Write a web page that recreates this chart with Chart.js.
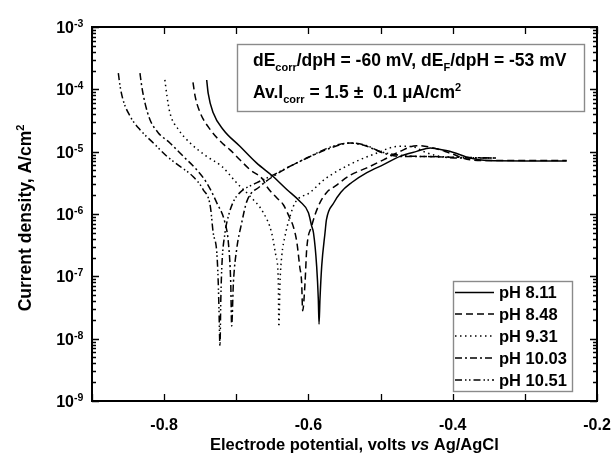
<!DOCTYPE html>
<html>
<head>
<meta charset="utf-8">
<script src="https://cdn.jsdelivr.net/npm/chart.js@4"></script>
<style>
  html, body { margin: 0; padding: 0; background: #fff; }
  #wrap { width: 615px; height: 455px; position: relative; }
</style>
</head>
<body>
<div id="wrap"><canvas id="tafelChart"></canvas></div>
<script>
// potential (V vs Ag/AgCl) and current density (A/cm2)
const pH811_E = [-0.741, -0.739, -0.732, -0.718, -0.695, -0.672, -0.649, -0.630, -0.612, -0.600, -0.5955, -0.593, -0.5886, -0.5863, -0.5853, -0.584, -0.5816, -0.577, -0.575, -0.565, -0.555, -0.540, -0.519, -0.496, -0.473, -0.450, -0.431, -0.422, -0.400, -0.376, -0.353, -0.300, -0.242];
const pH811_I = [1.41e-4, 8.7e-5, 4.2e-5, 2.25e-5, 1.22e-5, 6.6e-6, 4.0e-6, 2.47e-6, 1.6e-6, 1.05e-6, 6.4e-7, 5.0e-7, 1.46e-7, 4.3e-8, 1.7e-8, 4.3e-8, 1.46e-7, 5.0e-7, 8.1e-7, 1.5e-6, 2.24e-6, 3.2e-6, 4.6e-6, 6.2e-6, 8.4e-6, 1.01e-5, 1.15e-5, 1.11e-5, 9.8e-6, 7.9e-6, 7.2e-6, 7.1e-6, 7.1e-6];

const pH848_E = [-0.760, -0.757, -0.750, -0.736, -0.718, -0.709, -0.695, -0.681, -0.663, -0.658, -0.644, -0.635, -0.626, -0.621, -0.616, -0.612, -0.6094, -0.608, -0.6047, -0.6024, -0.5955, -0.5863, -0.575, -0.563, -0.542, -0.519, -0.496, -0.473, -0.450, -0.427, -0.404, -0.376, -0.350, -0.242];
const pH848_I = [1.29e-4, 7.7e-5, 4.2e-5, 2.25e-5, 1.32e-5, 1.08e-5, 7.4e-6, 5.15e-6, 3.56e-6, 2.79e-6, 1.82e-6, 1.42e-6, 8.7e-7, 6.3e-7, 3.5e-7, 1.41e-7, 7.9e-8, 2.8e-8, 7.9e-8, 2.7e-7, 6.4e-7, 1.33e-6, 2.2e-6, 2.8e-6, 4.2e-6, 5.5e-6, 7.4e-6, 1.01e-5, 1.25e-5, 1.15e-5, 9.5e-6, 7.4e-6, 7.2e-6, 7.2e-6];

const pH931_E = [-0.799, -0.796, -0.792, -0.780, -0.764, -0.741, -0.720, -0.6995, -0.681, -0.6625, -0.651, -0.645, -0.6417, -0.641, -0.6394, -0.637, -0.6325, -0.6255, -0.6186, -0.598, -0.579, -0.561, -0.529, -0.505, -0.487, -0.473, -0.455, -0.440, -0.420, -0.390, -0.340];
const pH931_I = [1.42e-4, 7.7e-5, 4.2e-5, 2.25e-5, 1.38e-5, 8.4e-6, 5.8e-6, 3.16e-6, 1.93e-6, 1.05e-6, 5.0e-7, 2.1e-7, 7.9e-8, 1.55e-8, 7.9e-8, 2.1e-7, 4.4e-7, 9.2e-7, 1.51e-6, 2.2e-6, 3.5e-6, 4.8e-6, 7.4e-6, 9.5e-6, 1.15e-5, 1.22e-5, 1.2e-5, 1.0e-5, 8.5e-6, 8.1e-6, 7.9e-6];

const pH1003_E = [-0.8335, -0.831, -0.8265, -0.8196, -0.808, -0.792, -0.7734, -0.755, -0.741, -0.727, -0.7156, -0.711, -0.7077, -0.7064, -0.704, -0.6995, -0.6925, -0.6855, -0.667, -0.649, -0.6255, -0.6024, -0.575, -0.556, -0.542, -0.519, -0.496, -0.473, -0.427, -0.394, -0.340];
const pH1003_I = [1.82e-4, 1.11e-4, 6.0e-5, 3.25e-5, 2.0e-5, 1.38e-5, 8.4e-6, 5.15e-6, 3.16e-6, 1.51e-6, 7.2e-7, 3.5e-7, 7.9e-8, 1.6e-8, 7.9e-8, 2.7e-7, 7.2e-7, 1.58e-6, 2.79e-6, 4.0e-6, 5.8e-6, 7.9e-6, 1.08e-5, 1.29e-5, 1.38e-5, 1.22e-5, 9.5e-6, 8.4e-6, 8.4e-6, 7.9e-6, 7.9e-6];

const pH1051_E = [-0.8635, -0.861, -0.857, -0.847, -0.8335, -0.815, -0.796, -0.778, -0.760, -0.746, -0.736, -0.732, -0.727, -0.725, -0.724, -0.7226, -0.7215, -0.720, -0.7156, -0.711, -0.704, -0.695, -0.672, -0.653, -0.630, -0.602, -0.575, -0.556, -0.542, -0.520, -0.500, -0.470, -0.430, -0.390, -0.340];
const pH1051_I = [1.82e-4, 1.11e-4, 6.8e-5, 3.67e-5, 2.25e-5, 1.38e-5, 8.4e-6, 5.8e-6, 4.0e-6, 2.47e-6, 1.33e-6, 5.0e-7, 2.4e-7, 7.9e-8, 3.0e-8, 7.7e-9, 4.0e-8, 1.46e-7, 5.0e-7, 9.2e-7, 1.58e-6, 2.2e-6, 3.16e-6, 4.0e-6, 5.5e-6, 7.9e-6, 1.12e-5, 1.32e-5, 1.38e-5, 1.26e-5, 1.0e-5, 8.7e-6, 8.3e-6, 8.1e-6, 7.9e-6];

const seriesLabels = ['pH 8.11', 'pH 8.48', 'pH 9.31', 'pH 10.03', 'pH 10.51'];
const xTicks = [-0.8, -0.6, -0.4, -0.2];
const xMajor = [-0.9, -0.8, -0.7, -0.6, -0.5, -0.4, -0.3, -0.2];
const yExponents = [-9, -8, -7, -6, -5, -4, -3];

const dashes = [[], [7, 4], [1.5, 3.5], [7, 3, 2, 3], [7, 3, 1.5, 2.5, 1.5, 3]];

function pts(E, I) {
  return E.map((e, i) => ({ x: e, y: I[i] }));
}

const series = [
  pts(pH811_E, pH811_I),
  pts(pH848_E, pH848_I),
  pts(pH931_E, pH931_I),
  pts(pH1003_E, pH1003_I),
  pts(pH1051_E, pH1051_I),
];

const FONT = '"Liberation Sans", Arial, sans-serif';

// draws a list of [text, font, dy] pieces one after another
function richText(ctx, parts, x, y) {
  let cx = x;
  parts.forEach(([t, f, dy]) => {
    ctx.font = f;
    ctx.fillText(t, cx, y + (dy || 0));
    cx += ctx.measureText(t).width;
  });
  return cx;
}

function richWidth(ctx, parts) {
  let w = 0;
  parts.forEach(([t, f]) => {
    ctx.font = f;
    w += ctx.measureText(t).width;
  });
  return w;
}

const decorations = {
  id: 'decorations',
  afterDraw(chart) {
    const ctx = chart.ctx;
    const xs = chart.scales.x;
    const ys = chart.scales.y;
    const a = chart.chartArea;
    ctx.save();
    ctx.fillStyle = '#000';
    ctx.strokeStyle = '#000';

    // frame
    ctx.lineWidth = 2;
    ctx.setLineDash([]);
    ctx.strokeRect(a.left, a.top, a.right - a.left, a.bottom - a.top);

    // x ticks (bottom and top, inward)
    ctx.lineWidth = 1.3;
    ctx.beginPath();
    xMajor.forEach((v) => {
      const px = Math.round(xs.getPixelForValue(v)) + 0.5;
      ctx.moveTo(px, a.bottom); ctx.lineTo(px, a.bottom - 7);
      ctx.moveTo(px, a.top); ctx.lineTo(px, a.top + 7);
    });
    // y ticks, major + minor, left and right
    yExponents.forEach((e) => {
      for (let m = 1; m <= 9; m++) {
        if (m > 1 && e === -3) break;
        const v = m * Math.pow(10, e);
        const py = Math.round(ys.getPixelForValue(v)) + 0.5;
        const len = m === 1 ? 7 : 4;
        ctx.moveTo(a.left, py); ctx.lineTo(a.left + len, py);
        ctx.moveTo(a.right, py); ctx.lineTo(a.right - len, py);
      }
    });
    ctx.stroke();

    // x tick labels
    ctx.font = 'bold 16px ' + FONT;
    ctx.textAlign = 'center';
    ctx.textBaseline = 'alphabetic';
    xTicks.forEach((v) => {
      ctx.fillText(v.toFixed(1), xs.getPixelForValue(v), 430);
    });

    // y tick labels 10^n
    ctx.textAlign = 'left';
    yExponents.forEach((e) => {
      const py = ys.getPixelForValue(Math.pow(10, e));
      ctx.font = 'bold 16px ' + FONT;
      const w10 = ctx.measureText('10').width;
      ctx.fillText('10', 74 - w10, py + 6);
      ctx.font = 'bold 10.5px ' + FONT;
      ctx.fillText(String(e), 74, py);
    });

    // x axis title
    const xt = [
      ['Electrode potential, volts ', 'bold 16.5px ' + FONT],
      ['vs', 'italic bold 16.5px ' + FONT],
      [' Ag/AgCl', 'bold 16.5px ' + FONT],
    ];
    richText(ctx, xt, 210, 450);

    // y axis title
    const yt = [
      ['Current density, A/cm', 'bold 17.5px ' + FONT],
      ['2', 'bold 11px ' + FONT, -7],
    ];
    const yw = richWidth(ctx, yt);
    ctx.save();
    ctx.translate(31, (a.top + a.bottom) / 2 + 4);
    ctx.rotate(-Math.PI / 2);
    richText(ctx, yt, -yw / 2, 0);
    ctx.restore();

    // annotation box
    ctx.fillStyle = '#fff';
    ctx.fillRect(237, 44, 347, 67);
    ctx.strokeStyle = '#8a8a8a';
    ctx.lineWidth = 1.4;
    ctx.strokeRect(237.5, 44.5, 347, 67);
    ctx.fillStyle = '#000';
    const big = 'bold 17.5px ' + FONT;
    const sub = 'bold 11px ' + FONT;
    richText(ctx, [
      ['dE', big], ['corr', sub, 5], ['/dpH = -60 mV, dE', big], ['F', sub, 5], ['/dpH = -53 mV', big],
    ], 253, 66);
    richText(ctx, [
      ['Av.I', big], ['corr', sub, 5], [' = 1.5 \u00b1  0.1 \u00b5A/cm', big], ['2', sub, -7],
    ], 253, 98);

    // legend box
    ctx.fillStyle = '#fff';
    ctx.fillRect(453, 281, 119, 110);
    ctx.strokeStyle = '#8a8a8a';
    ctx.lineWidth = 1.4;
    ctx.strokeRect(453.5, 281.5, 119, 110);
    const rowY = [292.5, 314, 336, 358, 380];
    seriesLabels.forEach((lab, i) => {
      ctx.strokeStyle = '#000';
      ctx.lineWidth = 1.5;
      ctx.setLineDash(dashes[i]);
      ctx.beginPath();
      ctx.moveTo(455, rowY[i]);
      ctx.lineTo(494, rowY[i]);
      ctx.stroke();
      ctx.setLineDash([]);
      ctx.fillStyle = '#000';
      ctx.font = 'bold 16.5px ' + FONT;
      ctx.textBaseline = 'middle';
      ctx.fillText(lab, 499, rowY[i] + 1);
      ctx.textBaseline = 'alphabetic';
    });

    ctx.restore();
  },
};

new Chart(document.getElementById('tafelChart').getContext('2d'), {
  type: 'line',
  data: {
    datasets: series.map((d, i) => ({
      label: seriesLabels[i],
      data: d,
      borderColor: '#000',
      backgroundColor: '#000',
      borderWidth: 1.5,
      borderDash: dashes[i],
      pointRadius: 0,
      fill: false,
      cubicInterpolationMode: 'monotone',
    })),
  },
  options: {
    responsive: true,
    maintainAspectRatio: false,
    animation: false,
    devicePixelRatio: 1,
    layout: {
      padding: { left: 92, top: 27, right: 18, bottom: 54 },
    },
    scales: {
      x: { type: 'linear', min: -0.9, max: -0.2, display: false },
      y: { type: 'logarithmic', min: 1e-9, max: 1e-3, display: false },
    },
    plugins: {
      legend: { display: false },
      tooltip: { enabled: false },
    },
  },
  plugins: [decorations],
});
</script>
</body>
</html>
